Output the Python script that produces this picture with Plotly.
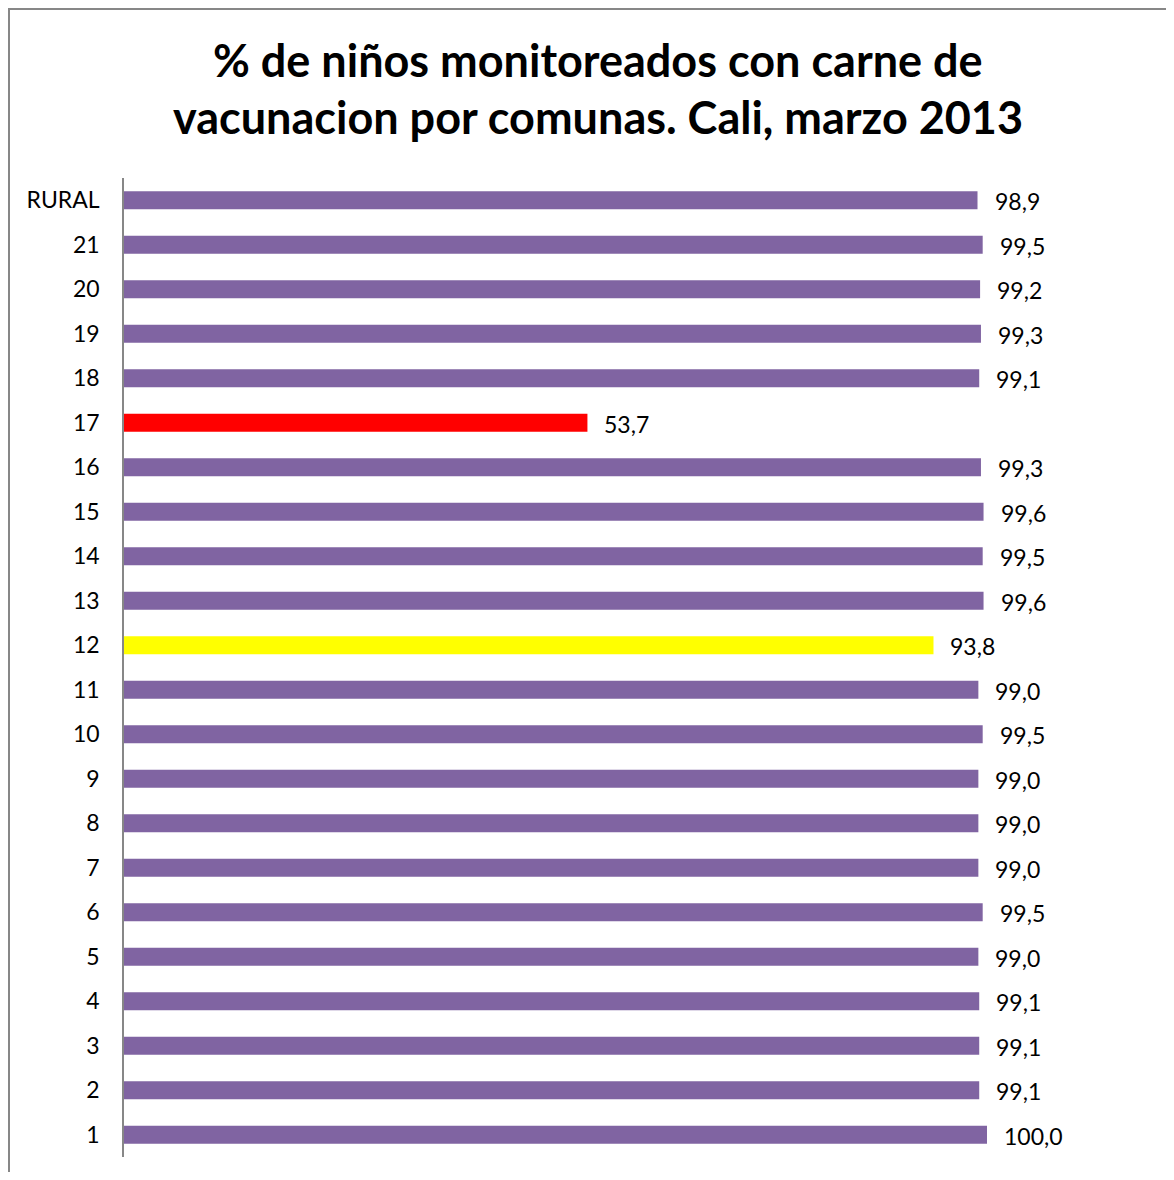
import plotly.graph_objects as go

categories = ["1", "2", "3", "4", "5", "6", "7", "8", "9", "10", "11",
              "12", "13", "14", "15", "16", "17", "18", "19", "20", "21", "RURAL"]
values = [100.0, 99.1, 99.1, 99.1, 99.0, 99.5, 99.0, 99.0, 99.0, 99.5, 99.0,
          93.8, 99.6, 99.5, 99.6, 99.3, 53.7, 99.1, 99.3, 99.2, 99.5, 98.9]
highlight = {"17": "#FF0000", "12": "#FFFF00"}
title_lines = ["% de niños monitoreados con carne de",
               "vacunacion por comunas. Cali, marzo 2013"]

PURPLE = "#8064A2"
colors = [highlight.get(c, PURPLE) for c in categories]
FONT = "Lato"

fig = go.Figure()
fig.add_trace(go.Bar(
    y=categories, x=values, orientation="h",
    marker=dict(color=colors, line=dict(width=0)),
    width=0.41, hoverinfo="skip",
))

for i, v in enumerate(values):
    fig.add_annotation(
        x=v, y=i, xref="x", yref="y", text=f"{v:.1f}".replace(".", ","),
        showarrow=False, xanchor="left", xshift=15, yshift=-1,
        font=dict(family=FONT, size=23, color="#000000"),
    )

# page has an 8px body margin; figure coordinates = page coordinates - 8
OFF = 8
W, H = 1158, 1164
L, T = 124 - OFF, 178 - OFF
B = H - (1157 - OFF)
R = W - L - 1000
pw, ph = W - L - R, H - T - B

def px(xpage):
    return (xpage - OFF - L) / pw

def py(ypage):
    return (H - B - (ypage - OFF)) / ph

title_y = [60, 117]
for line, yc in zip(title_lines, title_y):
    fig.add_annotation(
        x=px(598), y=py(yc), xref="paper", yref="paper", text=f"<b>{line}</b>",
        showarrow=False, xanchor="center", yanchor="middle",
        font=dict(family=FONT, size=45, color="#000000"),
    )

# outer chart border (left and top edges visible)
border = dict(color="#878787", width=2)
fig.add_shape(type="line", xref="paper", yref="paper",
              x0=px(9), x1=px(9), y0=py(8), y1=py(1300), line=border)
fig.add_shape(type="line", xref="paper", yref="paper",
              x0=px(8), x1=px(1300), y0=py(9), y1=py(9), line=border)

fig.update_layout(
    width=W, height=H,
    margin=dict(l=L, r=R, t=T, b=B, pad=0),
    paper_bgcolor="white", plot_bgcolor="white",
    showlegend=False,
    xaxis=dict(range=[0, pw / 8.63], visible=False, showgrid=False, zeroline=False),
    yaxis=dict(
        categoryorder="array", categoryarray=categories,
        showline=True, linecolor="#878787", linewidth=1.5,
        showgrid=False, zeroline=False,
        ticks="outside", ticklen=18, tickcolor="rgba(0,0,0,0)",
        tickfont=dict(family=FONT, size=23, color="#000000"),
        range=[-0.5, len(categories) - 0.5],
    ),
)

fig.write_html("out.html")
